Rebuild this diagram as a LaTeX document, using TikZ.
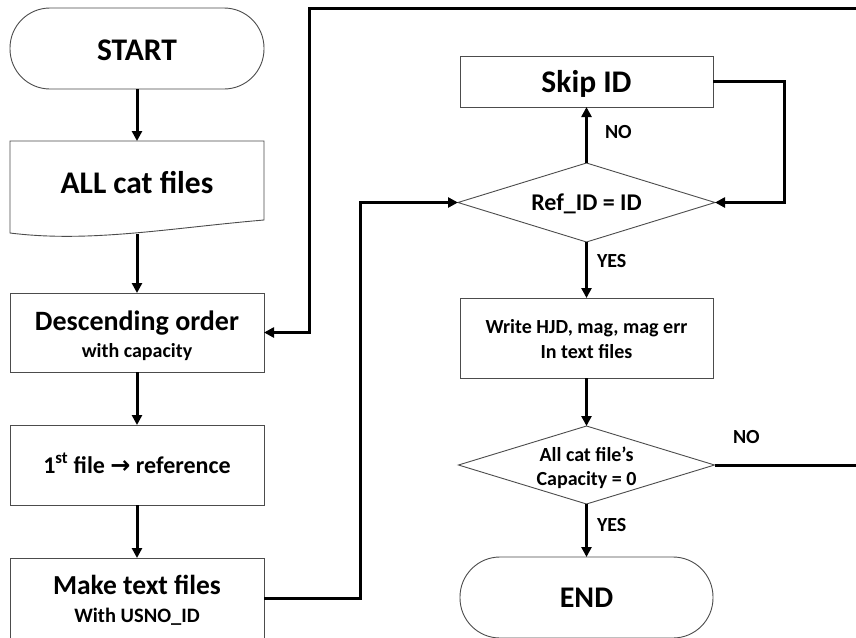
\documentclass[tikz,border=0pt]{standalone}
\usepackage{fontspec}
\setmainfont{Carlito}
\newfontfamily\arrowfont{DejaVu Sans}
\usetikzlibrary{shapes.geometric,arrows.meta}
\newcommand\myfs[1]{\bfseries\fontsize{#1}{#1}\selectfont}
\begin{document}
\begin{tikzpicture}[x=1pt,y=-1pt,
  box/.style={draw=black!70,line width=0.9pt,fill=white,minimum width=254pt,inner sep=0pt,outer sep=0pt},
  term/.style={box,rounded corners=40pt},
  dec/.style={draw=black!70,line width=0.9pt,fill=white,diamond,aspect=3.25,inner sep=0pt,outer sep=0pt},
  txt/.style={anchor=base,inner sep=0pt,outer sep=0pt},
  conn/.style={line width=3pt,-{Triangle[length=10pt,width=10pt]}}
]
\useasboundingbox (0,0) rectangle (856,637);
\clip (0,0) rectangle (856,637);
\fill[white] (0,0) rectangle (856,637);

% left column
\node[term,minimum height=81pt] (start) at (137,48.5) {};
\node[txt,font=\myfs{31.5}] (startt) at (137,60) {START};

\node[minimum width=254pt,minimum height=92pt,inner sep=0pt,outer sep=0pt] (allcat) at (137,187) {};
\draw[black!70,line width=0.9pt,fill=white] (10,141) -- (264,141) -- (264,220)
  .. controls (170,228) and (90,243) .. (10,233) -- cycle;
\coordinate (allcatbot) at (137,234);
\node[txt,font=\myfs{31.5}] (allcatt) at (137,193) {ALL cat files};

\node[box,minimum height=79pt] (desc) at (137,332.5) {};
\node[txt,font=\myfs{28}] (desct1) at (137,330) {Descending order};
\node[txt,font=\myfs{20}] (desct2) at (137,357) {with capacity};

\node[box,minimum height=80pt] (first) at (137,465) {};
\node[txt,font=\myfs{24}] (firstt) at (137,473) {1\textsuperscript{st} file {\arrowfont\bfseries →} reference};

\node[box,minimum height=80pt] (make) at (137,598) {};
\node[txt,font=\myfs{27.5}] (maket1) at (137,594) {Make text files};
\node[txt,font=\myfs{20.5}] (maket2) at (137,622) {With USNO\_ID};

% right column
\node[box,minimum width=253pt,minimum height=51pt] (skip) at (586.5,81.5) {};
\node[txt,font=\myfs{31.5}] (skipt) at (586.5,92) {Skip ID};

\node[dec,minimum width=257pt,minimum height=79pt] (ref) at (586.5,202.5) {};
\node[txt,font=\myfs{24}] (reft) at (586.5,210) {Ref\_ID = ID};

\node[box,minimum width=253pt,minimum height=80pt] (write) at (586.5,338) {};
\node[txt,font=\myfs{20}] (writet1) at (586.5,333) {Write HJD, mag, mag err};
\node[txt,font=\myfs{20}] (writet2) at (586.5,358) {In text files};

\node[dec,minimum width=256pt,minimum height=78pt] (cap) at (586.5,465) {};
\node[txt,font=\myfs{20}] (capt1) at (586.5,461) {All cat file’s};
\node[txt,font=\myfs{20}] (capt2) at (586.5,485) {Capacity = 0};

\node[term,minimum width=253pt,minimum height=81pt] (end) at (586.5,597.5) {};
\node[txt,font=\myfs{30}] (endt) at (586.5,607) {END};

% labels
\node[txt,anchor=base west,font=\myfs{20}] (no1) at (605,138) {NO};
\node[txt,anchor=base west,font=\myfs{20}] (yes1) at (597,267) {YES};
\node[txt,anchor=base west,font=\myfs{20}] (no2) at (733,443) {NO};
\node[txt,anchor=base west,font=\myfs{20}] (yes2) at (597,531) {YES};

% connectors
\draw[conn] (start.south) -- (allcat.north);
\draw[conn] (allcatbot) -- (desc.north);
\draw[conn] (desc.south) -- (first.north);
\draw[conn] (first.south) -- (make.north);
\draw[conn] (make.east) -- ++(96,0) |- (ref.west);
\draw[conn] (ref.north) -- (skip.south);
\draw[conn] (skip.east) -- ++(71,0) |- (ref.east);
\draw[conn] (ref.south) -- (write.north);
\draw[conn] (write.south) -- (cap.north);
\draw[conn] (cap.south) -- (end.north);
\draw[conn] (cap.east) -- (900,465) -- (900,8) -- (309,8) |- (desc.east);
\end{tikzpicture}
\end{document}
